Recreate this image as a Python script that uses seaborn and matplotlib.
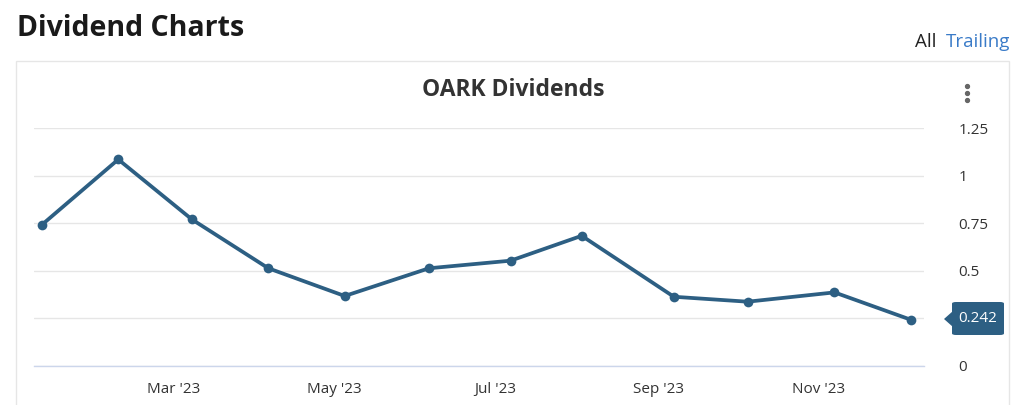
import pandas as pd
import seaborn as sns
import matplotlib.pyplot as plt
from matplotlib.patches import Rectangle, FancyBboxPatch, Polygon
from matplotlib.lines import Line2D

# dividend history
pay_dates = ['2023-01-10', '2023-02-08', '2023-03-08', '2023-04-06', '2023-05-05', '2023-06-06',
             '2023-07-07', '2023-08-03', '2023-09-07', '2023-10-05', '2023-11-07', '2023-12-06']
dividends = [0.742, 1.086, 0.770, 0.513, 0.367, 0.513, 0.553, 0.684, 0.363, 0.337, 0.386, 0.242]
y_ticks = [0, 0.25, 0.5, 0.75, 1, 1.25]
# the 0.25 label sits under the last-value tag in the original
y_tick_labels = ['0', '', '0.5', '0.75', '1', '1.25']
x_ticks = ['2023-03-01', '2023-05-01', '2023-07-01', '2023-09-01', '2023-11-01']
x_tick_labels = ["Mar '23", "May '23", "Jul '23", "Sep '23", "Nov '23"]

df = pd.DataFrame({'date': pd.to_datetime(pay_dates), 'dividend': dividends})

sns.set_style('white')
plt.rcParams['font.family'] = ['Open Sans', 'DejaVu Sans']

line_color = '#2d5f83'
W, H = 1024, 405
fig = plt.figure(figsize=(W / 100, H / 100), dpi=100)

# card border
fig.add_artist(Rectangle((16 / W, -0.05), (1009 - 16) / W, 1.05 - 61 / H,
                         transform=fig.transFigure, fill=False, edgecolor='#e6e6e6', lw=1))

ax = fig.add_axes([34 / W, 1 - 365.7 / H, (924 - 34) / W, (365.7 - 128.3) / H])
sns.lineplot(data=df, x='date', y='dividend', ax=ax, color=line_color, lw=2.7,
             marker='o', markersize=7, markeredgewidth=0)

ax.set_xlim(pd.Timestamp('2023-01-07'), pd.Timestamp('2023-12-11'))
ax.set_ylim(0, 1.25)
ax.set_xticks(pd.to_datetime(x_ticks))
ax.set_xticklabels(x_tick_labels)
ax.set_yticks(y_ticks)
ax.set_yticklabels(y_tick_labels)
ax.yaxis.tick_right()
ax.tick_params(axis='y', length=0, pad=25, labelsize=11, labelcolor='#333333')
ax.tick_params(axis='x', length=8, width=1, color='#ccd6eb', pad=4, labelsize=11, labelcolor='#333333')
ax.grid(axis='y', color='#e6e6e6', lw=1)
ax.set_axisbelow(True)
for s in ['top', 'left', 'right']:
    ax.spines[s].set_visible(False)
ax.spines['bottom'].set_color('#ccd6eb')
ax.spines['bottom'].set_linewidth(1)
ax.set_xlabel('')
ax.set_ylabel('')

# titles and header texts
fig.text(17 / W, 1 - 28 / H, 'Dividend Charts', fontsize=20.5, fontweight='bold',
         color='#1a1a1a', va='center', ha='left')
fig.text(513 / W, 1 - 90 / H, 'OARK Dividends', fontsize=16.5, fontweight='bold',
         color='#333333', va='center', ha='center')
fig.text(936 / W, 1 - 42 / H, 'All', fontsize=13.5, color='#222222', va='center', ha='right')
fig.text(946 / W, 1 - 42 / H, 'Trailing', fontsize=13.5, color='#3a7bc8', va='center', ha='left')

# menu dots
fig.add_artist(Line2D([967 / W] * 3, [1 - 86 / H, 1 - 93 / H, 1 - 100 / H], transform=fig.transFigure,
                      lw=0, marker='o', markersize=2.8, color='#666666'))

# last value tag
fig.add_artist(FancyBboxPatch((952 / W, 1 - 335 / H), 52 / W, 33 / H, boxstyle='round,pad=0,rounding_size=0.004',
                              transform=fig.transFigure, facecolor=line_color, edgecolor='none'))
fig.add_artist(Polygon([(944 / W, 1 - 319 / H), (953 / W, 1 - 311 / H), (953 / W, 1 - 327 / H)],
                       transform=fig.transFigure, facecolor=line_color, edgecolor='none'))
fig.text(978 / W, 1 - 318.5 / H, f'{dividends[-1]:.3f}', fontsize=11, color='white', va='center', ha='center')

fig.savefig('out.png', dpi=100)
